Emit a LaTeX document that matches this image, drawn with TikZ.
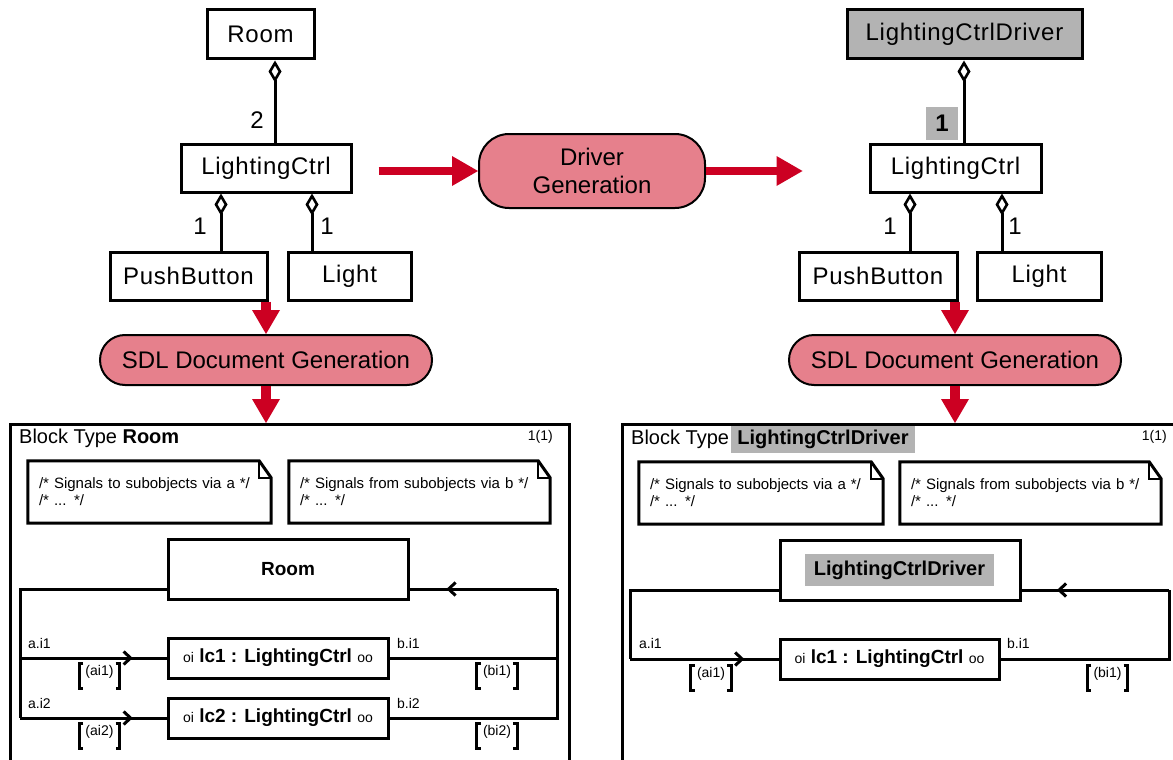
\documentclass[tikz,border=0pt]{standalone}
\usepackage{fontspec}
\setmainfont{Liberation Sans}
\newfontfamily\umlfont[LetterSpace=3]{Liberation Sans}
\usepackage{xcolor}
\usepackage{tikz}
\usetikzlibrary{positioning,arrows.meta,decorations.markings}
\definecolor{pillfill}{HTML}{E6808C}
\definecolor{flowred}{HTML}{CC0022}
\definecolor{grayfill}{HTML}{B3B3B3}

\begin{document}
\begin{tikzpicture}[
  x=1pt,y=-1pt,
  cls/.style={rectangle,draw,line width=3pt,minimum height=48pt,inner sep=0pt,font=\umlfont\fontsize{24}{28}\selectfont},
  proc/.style={rectangle,draw,line width=2pt,rounded corners=25pt,fill=pillfill,align=center,inner sep=0pt,font=\fontsize{24}{28}\selectfont},
  mult/.style={inner sep=0pt,font=\fontsize{24}{28}\selectfont},
  agg/.style={line width=3pt,-{Diamond[open,length=22pt,width=13pt,line width=2.6pt]}},
  flow/.style={draw=flowred,line width=8pt,-{Triangle[length=26pt,width=30pt,line width=0pt]}},
  flowv/.style={draw=flowred,line width=10pt,-{Triangle[length=24pt,width=28pt,line width=0pt]}},
  frame/.style={rectangle,draw,line width=3pt,anchor=north west,minimum height=400pt},
  hdr/.style={inner sep=5pt,font=\fontsize{20}{24}\selectfont},
  pg/.style={inner sep=0pt,font=\fontsize{14}{16}\selectfont},
  note/.style={rectangle,align=left,minimum height=62pt,inner sep=11pt,font=\fontsize{15}{17}\selectfont},
  ibox/.style={rectangle,draw,line width=3pt,inner sep=0pt,font=\fontsize{19}{22}\selectfont},
  hl/.style={fill=grayfill,inner xsep=6pt,inner ysep=4pt,font=\bfseries\fontsize{20}{24}\selectfont},
  chan/.style={line width=3pt},
  midarr/.style={postaction={decorate},decoration={markings,mark=at position #1 with {\arrow{Straight Barb[length=7pt,width=13pt]}}}},
  lbl/.style={inner sep=0pt,font=\fontsize{14}{16}\selectfont},
  sig/.style={anchor=north,text height=11pt,text depth=12pt,inner xsep=6pt,inner ysep=1pt,font=\fontsize{14}{16}\selectfont},
  brk/.style={line width=3pt}
]
\useasboundingbox (0,0) rectangle (1173,760);

\node[cls,minimum width=107pt,minimum height=49pt] (roomU) at (260.5,34.5) {Room};
\node[cls,minimum width=170pt] (lcL) at (266,168) {LightingCtrl};
\node[cls,minimum width=157pt] (pbL) at (188.5,276) {PushButton};
\node[cls,minimum width=123pt] (ltL) at (349.5,276) {Light};
\node[mult] (m2L) at (257,120) {2};
\node[mult] (m1L) at (200,226) {1};
\node[mult] (m3L) at (327,226) {1};
\draw[agg] ([xshift=9pt]lcL.north) -- ([xshift=9pt]lcL.north |- roomU.south);
\draw[agg] ([xshift=-45pt]lcL.south |- pbL.north) -- ([xshift=-45pt]lcL.south);
\draw[agg] ([xshift=46pt]lcL.south |- ltL.north) -- ([xshift=46pt]lcL.south);

\node[cls,minimum width=235pt,minimum height=49pt,fill=grayfill] (drvU) at (964.5,34.5) {LightingCtrlDriver};
\node[cls,minimum width=171pt] (lcR) at (955.5,168) {LightingCtrl};
\node[cls,minimum width=158pt] (pbR) at (878,276) {PushButton};
\node[cls,minimum width=124pt] (ltR) at (1039,276) {Light};
\node[mult,fill=grayfill,minimum width=32pt,minimum height=33pt,font=\bfseries\fontsize{24}{28}\selectfont] (m1R) at (942,123.5) {1};
\node[mult] (m2R) at (890,226) {1};
\node[mult] (m3R) at (1015,226) {1};
\draw[agg] ([xshift=8.5pt]lcR.north) -- ([xshift=8.5pt]lcR.north |- drvU.south);
\draw[agg] ([xshift=-45.5pt]lcR.south |- pbR.north) -- ([xshift=-45.5pt]lcR.south);
\draw[agg] ([xshift=46.5pt]lcR.south |- ltR.north) -- ([xshift=46.5pt]lcR.south);

\node[proc,minimum width=226pt,minimum height=74pt,rounded corners=30pt] (drvGen) at (592,171) {Driver\\Generation};
\node[proc,minimum width=332pt,minimum height=50pt] (sdlL) at (266,360) {SDL Document Generation};
\node[proc,minimum width=332pt,minimum height=50pt] (sdlR) at (955,360) {SDL Document Generation};
\draw[flow] ([xshift=26pt]lcL.east |- drvGen.west) -- (drvGen.west);
\draw[flow] (drvGen.east) -- ([xshift=-66pt]lcR.west |- drvGen.east);

\node[frame,minimum width=559pt] (blkL) at (9,423) {};
\node[frame,minimum width=600pt] (blkR) at (621,423) {};
\draw[flowv] (sdlL.north |- pbL.south) -- (sdlL.north);
\draw[flowv] (sdlL.south) -- (sdlL.south |- blkL.north);
\draw[flowv] (sdlR.north |- pbR.south) -- (sdlR.north);
\draw[flowv] (sdlR.south) -- (sdlR.south |- blkR.north);

\node[hdr,anchor=west] (tL) at (14,438) {Block Type \textbf{Room}};
\node[pg,anchor=east] (pgL) at (553,437) {1(1)};
\node[hdr,anchor=west] (tR) at (626,439) {Block Type};
\node[hl,right=-3pt of tR,minimum height=27pt] (tRn) {LightingCtrlDriver};
\node[pg,anchor=east] (pgR) at (1167,437) {1(1)};

\node[note,text width=221pt] (naL) at (149.5,492) {/* Signals to subobjects via a */\\/* ... */};
\node[note,text width=239pt] (nbL) at (419.5,492) {/* Signals from subobjects via b */\\/* ... */};
\node[note,text width=222pt] (naR) at (761,493) {/* Signals to subobjects via a */\\/* ... */};
\node[note,text width=239pt] (nbR) at (1030.5,493) {/* Signals from subobjects via b */\\/* ... */};
\foreach \n in {naL,nbL,naR,nbR}{
  \draw[line width=3pt] (\n.south west) -- (\n.north west) -- ([xshift=-12pt]\n.north east)
    -- ([yshift=-17pt]\n.north east) -- (\n.south east) -- cycle;
  \draw[line width=2.5pt] ([xshift=-12pt]\n.north east) |- ([yshift=-17pt]\n.north east);
}

\node[ibox,minimum width=240pt,minimum height=60pt] (roomI) at (288,569) {\textbf{Room}};
\node[ibox,minimum width=220pt,minimum height=40pt] (lc1L) at (278,658) {{\fontsize{14}{16}\selectfont oi}\ \textbf{lc1 : LightingCtrl}\ {\fontsize{14}{16}\selectfont oo}};
\node[ibox,minimum width=220pt,minimum height=40pt] (lc2L) at (278,718) {{\fontsize{14}{16}\selectfont oi}\ \textbf{lc2 : LightingCtrl}\ {\fontsize{14}{16}\selectfont oo}};
\coordinate (cTL) at (20,589);
\coordinate (cTR) at (557,589);
\draw[chan] (roomI.west |- cTL) -| (cTL |- lc2L.west);
\draw[chan,midarr=0.77] (cTL |- lc1L.west) -- (lc1L.west);
\draw[chan,midarr=0.77] (cTL |- lc2L.west) -- (lc2L.west);
\draw[chan] (lc2L.east) -| (cTR);
\draw[chan] (lc1L.east) -- (cTR |- lc1L.east);
\draw[chan,midarr=0.75] (cTR) -- (roomI.east |- cTR);
\node[lbl,anchor=west] (la1) at (28,643) {a.i1};
\node[lbl,anchor=west] (lb1) at (397,643) {b.i1};
\node[lbl,anchor=west] (la2) at (28,703) {a.i2};
\node[lbl,anchor=west] (lb2) at (397,703) {b.i2};
\node[sig] (sa1L) at (99.5,663) {(ai1)};
\node[sig] (sb1L) at (497,663) {(bi1)};
\node[sig] (sa2L) at (99.5,723) {(ai2)};
\node[sig] (sb2L) at (497,723) {(bi2)};

\node[ibox,minimum width=240pt,minimum height=60pt] (drvI) at (900,570) {};
\node[hl,inner xsep=9pt,minimum height=32pt] (drvIt) at (899.5,570) {LightingCtrlDriver};
\node[ibox,minimum width=219pt,minimum height=40pt] (lc1R) at (889.5,659) {{\fontsize{14}{16}\selectfont oi}\ \textbf{lc1 : LightingCtrl}\ {\fontsize{14}{16}\selectfont oo}};
\coordinate (dTL) at (630,590);
\coordinate (dTR) at (1169,590);
\draw[chan] (drvI.west |- dTL) -| (dTL |- lc1R.west);
\draw[chan,midarr=0.77] (dTL |- lc1R.west) -- (lc1R.west);
\draw[chan] (lc1R.east) -| (dTR);
\draw[chan,midarr=0.76] (dTR) -- (drvI.east |- dTR);
\node[lbl,anchor=west] (la1R) at (639,643) {a.i1};
\node[lbl,anchor=west] (lb1R) at (1007,643) {b.i1};
\node[sig] (sa1R) at (711,665) {(ai1)};
\node[sig] (sb1R) at (1107.5,665) {(bi1)};

\foreach \s in {sa1L,sb1L,sa2L,sb2L,sa1R,sb1R}{
  \draw[brk] ([xshift=4pt]\s.north west) -- (\s.north west) -- (\s.south west) -- ([xshift=4pt]\s.south west);
  \draw[brk] ([xshift=-4pt]\s.north east) -- (\s.north east) -- (\s.south east) -- ([xshift=-4pt]\s.south east);
}
\end{tikzpicture}
\end{document}
